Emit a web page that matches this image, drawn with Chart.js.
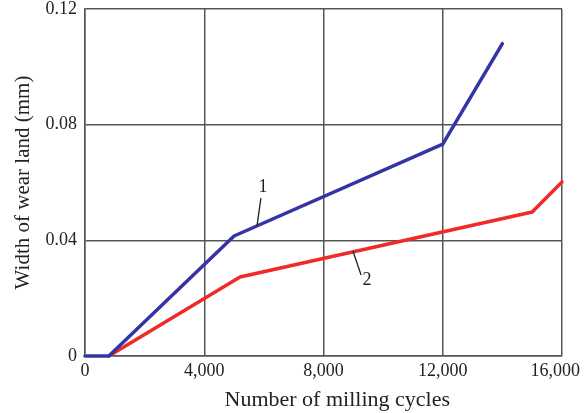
<!DOCTYPE html>
<html>
<head>
<meta charset="utf-8">
<script src="https://cdn.jsdelivr.net/npm/chart.js@4"></script>
<style>
  html, body { margin: 0; padding: 0; background: #fff; }
  #wrap { width: 584px; height: 413px; }
</style>
</head>
<body>
<div id="wrap"><canvas id="wearChart"></canvas></div>
<script>
// Curve 1 (blue) and curve 2 (red)
const cycles1 = [0, 800, 5000, 12000, 14000];
const wear1 = [0, 0, 0.0415, 0.0733, 0.108];
const cycles2 = [800, 5200, 15000, 16000];
const wear2 = [0, 0.0273, 0.0498, 0.0602];

// Tick labels
const xTicks = ["0", "4,000", "8,000", "12,000", "16,000"];
const yTicks = ["0", "0.04", "0.08", "0.12"];

// Curve number labels with leader lines (data coordinates)
const curveLabels = [
  { text: "1", at: [5970, 0.0584], from: [5900, 0.0546], to: [5770, 0.0450] },
  { text: "2", at: [9460, 0.0263], from: [8990, 0.0362], to: [9260, 0.0280] },
];

const textColor = "#222";
const gridColor = "#555";
const font = "'Liberation Serif', 'DejaVu Serif', serif";

const labelPlugin = {
  id: "curveLabels",
  afterDatasetsDraw(chart) {
    const { ctx, scales } = chart;
    const x = scales.x, y = scales.y;
    ctx.save();
    ctx.strokeStyle = "#222";
    ctx.lineWidth = 1.3;
    ctx.fillStyle = "#222";
    ctx.font = "18px " + font;
    ctx.textAlign = "center";
    ctx.textBaseline = "middle";
    curveLabels.forEach((l) => {
      ctx.beginPath();
      ctx.moveTo(x.getPixelForValue(l.from[0]), y.getPixelForValue(l.from[1]));
      ctx.lineTo(x.getPixelForValue(l.to[0]), y.getPixelForValue(l.to[1]));
      ctx.stroke();
      ctx.fillText(l.text, x.getPixelForValue(l.at[0]), y.getPixelForValue(l.at[1]));
    });
    ctx.restore();
  },
};

new Chart(document.getElementById("wearChart").getContext("2d"), {
  type: "line",
  data: {
    datasets: [
      {
        label: "1",
        data: cycles1.map((c, i) => ({ x: c, y: wear1[i] })),
        borderColor: "#3434a4",
        borderWidth: 3.5,
        pointRadius: 0,
        borderCapStyle: "round",
        borderJoinStyle: "round",
        clip: false,
      },
      {
        label: "2",
        data: cycles2.map((c, i) => ({ x: c, y: wear2[i] })),
        borderColor: "#ee2a2a",
        borderWidth: 3.5,
        pointRadius: 0,
        borderCapStyle: "round",
        borderJoinStyle: "round",
        clip: false,
      },
    ],
  },
  options: {
    responsive: true,
    maintainAspectRatio: false,
    animation: false,
    layout: { padding: { top: 9, right: 22, left: 0, bottom: 0 } },
    plugins: {
      legend: { display: false },
      tooltip: { enabled: false },
    },
    scales: {
      x: {
        type: "linear",
        min: 0,
        max: 16000,
        afterBuildTicks: (scale) => {
          scale.ticks = xTicks.map((t, i) => ({ value: i * 4000 }));
        },
        ticks: {
          color: textColor,
          font: { family: font, size: 18 },
          padding: 4,
          maxRotation: 0,
          // last label is pulled left so it stays inside the canvas
          callback: (v, i) => (i === xTicks.length - 1 ? xTicks[i] + "   " : xTicks[i]),
        },
        grid: { color: gridColor, lineWidth: 1.5, drawTicks: false },
        border: { color: gridColor, width: 1.5 },
        title: {
          display: true,
          // leading spaces nudge the title a little right, as in the original
          text: "     Number of milling cycles",
          color: textColor,
          font: { family: font, size: 22 },
          padding: { top: 0, bottom: 0 },
        },
        afterFit: (scale) => {
          scale.height = 57;
          scale.paddingLeft = 0;
          scale.paddingRight = 0;
        },
      },
      y: {
        type: "linear",
        min: 0,
        max: 0.12,
        afterBuildTicks: (scale) => {
          scale.ticks = yTicks.map((t, i) => ({ value: i * 0.04 }));
        },
        ticks: {
          color: textColor,
          font: { family: font, size: 18 },
          padding: 8,
          callback: (v, i) => yTicks[i],
        },
        grid: { color: gridColor, lineWidth: 1.5, drawTicks: false },
        border: { color: gridColor, width: 1.5 },
        title: {
          display: true,
          text: "Width of wear land (mm)",
          color: textColor,
          font: { family: font, size: 21 },
          padding: { top: 11, bottom: 0 },
        },
        afterFit: (scale) => {
          scale.width = 85;
          scale.paddingTop = 0;
          scale.paddingBottom = 0;
        },
      },
    },
  },
  plugins: [labelPlugin],
});
</script>
</body>
</html>
